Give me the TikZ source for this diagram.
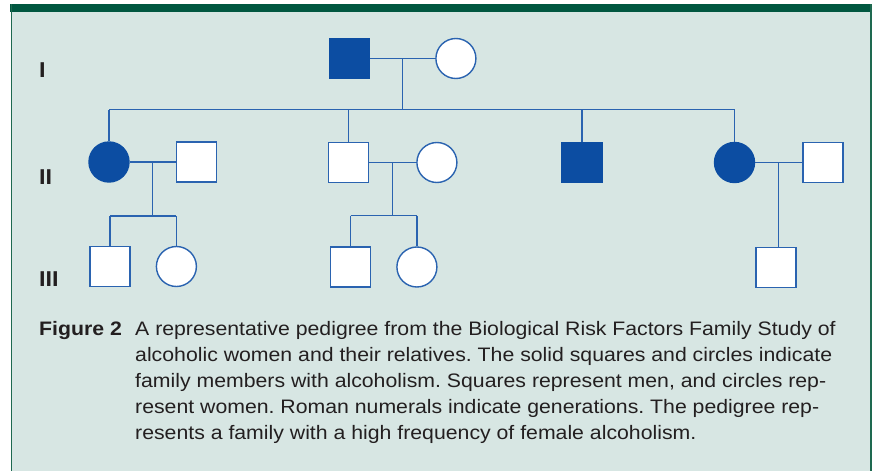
\documentclass[tikz,border=0pt]{standalone}
\usepackage{fontspec}
\setmainfont{Liberation Sans}[FakeStretch=1.09]
\usetikzlibrary{positioning,calc}
\definecolor{pedblue}{RGB}{12,77,162}
\definecolor{lineblue}{RGB}{42,99,176}
\definecolor{panelbg}{RGB}{215,230,227}
\definecolor{bargreen}{RGB}{0,87,64}
\definecolor{framegreen}{RGB}{30,105,80}
\definecolor{textgray}{RGB}{35,31,32}

\tikzset{
  male/.style={rectangle, draw=lineblue, fill=white, line width=1.4pt, minimum size=40pt, inner sep=0pt},
  female/.style={circle, draw=lineblue, fill=white, line width=1.4pt, minimum size=40pt, inner sep=0pt},
  affected/.style={fill=pedblue, draw=pedblue},
  kin/.style={lineblue, line width=1.4pt},
  genlabel/.style={font=\fontsize{21.5}{21.5}\selectfont\bfseries, text=textgray, anchor=base west, inner sep=0pt},
}

\begin{document}
\frenchspacing
\begin{tikzpicture}[x=1pt, y=-1pt]
\useasboundingbox (0,0) rectangle (875,471);
% panel
\fill[panelbg] (11,4) rectangle (871,471);
\fill[bargreen] (10,4) rectangle (872,12);
\draw[framegreen, line width=1.4pt] (11.5,4) -- (11.5,471);
\draw[framegreen, line width=1.4pt] (870.8,4) -- (870.8,471);

% generation labels
\node[genlabel] (gI) at (39,77.7) {I};
\node[genlabel] (gII) at (39,184) {II};
\node[genlabel] (gIII) at (39,286.7) {III};

% generation I
\node[male, affected] (f1) at (349.5,58.5) {};
\node[female, right=65pt of f1] (m1) {};

% generation II
\node[female, affected] (a1) at (109,162) {};
\node[male, right=46pt of a1] (a2) {};
\node[male] (b1) at (348.5,162.5) {};
\node[female, right=47pt of b1] (b2) {};
\node[male, affected] (c1) at (582,162.5) {};
\node[female, affected] (d1) at (734.5,162.5) {};
\node[male, right=47pt of d1] (d2) {};

% generation III
\node[male] (a3) at (110,266.5) {};
\node[female, right=25pt of a3] (a4) {};
\node[male] (b3) at (350.5,267) {};
\node[female, right=25pt of b3] (b4) {};
\node[male] (d3) at (776,267.5) {};

% marriages
\draw[kin] (f1) -- (m1);
\draw[kin] (a1) -- (a2);
\draw[kin] (b1) -- (b2);
\draw[kin] (d1) -- (d2);

\coordinate (jI) at ($(f1.east)!0.5!(m1.west)$);
\coordinate (jA) at ($(a1.east)!0.5!(a2.west)$);
\coordinate (jB) at ($(b1.east)!0.5!(b2.west)$);
\coordinate (jD) at ($(d1.east)!0.5!(d2.west)$);

% sibships
\coordinate (sI) at ($(jI)+(0,51)$);
\draw[kin] (jI) -- (sI);
\draw[kin] (a1.north |- sI) -- (d1.north |- sI);
\foreach \n in {a1,b1,c1,d1}
  \draw[kin] (\n.north |- sI) -- (\n.north);

\coordinate (sA) at ($(jA)+(0,54)$);
\draw[kin] (jA) -- (sA);
\draw[kin] (a3.north |- sA) -- (a4.north |- sA);
\foreach \n in {a3,a4}
  \draw[kin] (\n.north |- sA) -- (\n.north);

\coordinate (sB) at ($(jB)+(0,53)$);
\draw[kin] (jB) -- (sB);
\draw[kin] (b3.north |- sB) -- (b4.north |- sB);
\foreach \n in {b3,b4}
  \draw[kin] (\n.north |- sB) -- (\n.north);

\draw[kin] (jD) -- (jD |- d3.north);

% caption
\node[anchor=base west, inner sep=0pt, text=textgray, font=\fontsize{19.5}{26.2}\selectfont\bfseries] (figlbl) at (39,335) {Figure 2};
\node[anchor=base west, inner sep=0pt, text=textgray, align=left, font=\fontsize{19.5}{26.2}\selectfont] (caption) at (135,439.8)
  {A representative pedigree from the Biological Risk Factors Family Study of\\
   alcoholic women and their relatives. The solid squares and circles indicate\\
   family members with alcoholism. Squares represent men, and circles rep-\\
   resent women. Roman numerals indicate generations. The pedigree rep-\\
   resents a family with a high frequency of female alcoholism.};
\end{tikzpicture}
\end{document}
